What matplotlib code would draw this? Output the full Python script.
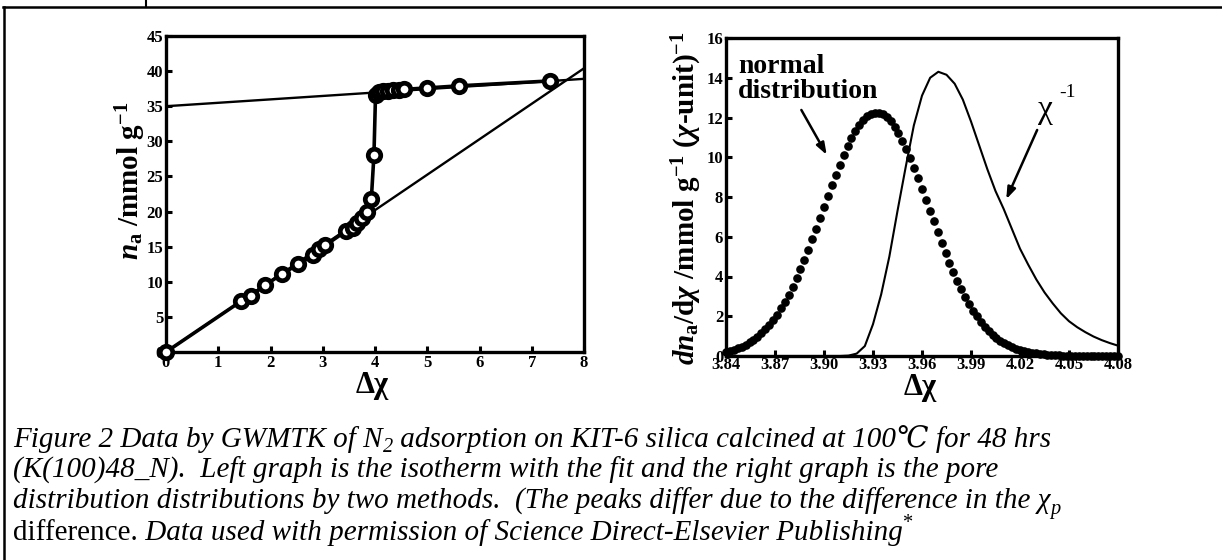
import matplotlib
matplotlib.use('Agg')
import matplotlib.pyplot as plt
from matplotlib.lines import Line2D

plt.rcParams['font.family'] = ['Liberation Serif', 'DejaVu Serif']
plt.rcParams['mathtext.fontset'] = 'custom'
plt.rcParams['mathtext.rm'] = 'Liberation Serif:bold'
plt.rcParams['mathtext.it'] = 'Liberation Serif:italic:bold'
plt.rcParams['mathtext.bf'] = 'Liberation Serif:bold'

# left graph: isotherm points (delta chi, n_a) and the two fit lines
iso_x = [0.0, 1.43, 1.62, 1.89, 2.22, 2.53, 2.82, 2.93, 3.05, 3.44, 3.57, 3.66, 3.76, 3.85,
         3.93, 3.98, 4.01, 4.07, 4.15, 4.25, 4.35, 4.45, 4.55, 4.99, 5.6, 7.35]
iso_y = [0.0, 7.2, 8.0, 9.5, 11.1, 12.5, 13.8, 14.6, 15.2, 17.2, 17.7, 18.4, 19.1, 19.9,
         21.8, 28.1, 36.6, 37.0, 37.1, 37.2, 37.3, 37.35, 37.4, 37.6, 37.9, 38.6]
fit_low_x = [0.0, 8.0]
fit_low_y = [0.0, 40.4]
fit_high_x = [0.0, 8.0]
fit_high_y = [35.0, 38.9]

# right graph: normal distribution (dots) and chi^-1 distribution (line)
norm_x = [3.84 + 0.0024 * i for i in range(101)]
norm_y = [0.21, 0.26, 0.32, 0.39, 0.47, 0.57, 0.68, 0.82, 0.97, 1.14,
          1.34, 1.56, 1.81, 2.08, 2.39, 2.73, 3.09, 3.49, 3.91, 4.37,
          4.84, 5.35, 5.87, 6.40, 6.95, 7.50, 8.05, 8.59, 9.12, 9.63,
          10.11, 10.56, 10.97, 11.33, 11.63, 11.88, 12.07, 12.19, 12.25, 12.23,
          12.16, 12.01, 11.80, 11.54, 11.21, 10.84, 10.42, 9.96, 9.47, 8.95,
          8.41, 7.87, 7.32, 6.77, 6.22, 5.69, 5.18, 4.68, 4.21, 3.77,
          3.35, 2.97, 2.61, 2.28, 1.99, 1.72, 1.48, 1.27, 1.08, 0.91,
          0.77, 0.64, 0.54, 0.44, 0.37, 0.30, 0.24, 0.20, 0.16, 0.13,
          0.10, 0.08, 0.06, 0.05, 0.04, 0.03, 0.02, 0.02, 0.01, 0.01,
          0.01, 0.01, 0.0, 0.0, 0.0, 0.0, 0.0, 0.0, 0.0, 0.0, 0.0]
inv_x = [3.84, 3.905, 3.910, 3.915, 3.920, 3.925, 3.930, 3.935, 3.940, 3.945, 3.950,
         3.955, 3.960, 3.965, 3.970, 3.975, 3.980, 3.985, 3.990, 3.995, 4.000,
         4.005, 4.010, 4.015, 4.020, 4.025, 4.030, 4.035, 4.040, 4.045, 4.050,
         4.055, 4.060, 4.065, 4.070, 4.075, 4.080]
inv_y = [0.0, 0.0, 0.0, 0.02, 0.12, 0.5, 1.6, 3.1, 5.0, 7.3, 9.5,
         11.6, 13.1, 14.0, 14.3, 14.15, 13.7, 12.9, 11.8, 10.6, 9.4,
         8.3, 7.4, 6.4, 5.4, 4.6, 3.85, 3.2, 2.65, 2.15, 1.75,
         1.45, 1.2, 0.98, 0.8, 0.65, 0.52]

left_xticks = [0, 1, 2, 3, 4, 5, 6, 7, 8]
left_yticks = [0, 5, 10, 15, 20, 25, 30, 35, 40, 45]
right_xticks = [3.84, 3.87, 3.90, 3.93, 3.96, 3.99, 4.02, 4.05, 4.08]
right_yticks = [0, 2, 4, 6, 8, 10, 12, 14, 16]

W, H = 1222, 560
fig = plt.figure(figsize=(W / 100, H / 100), dpi=100)


def box(x0, y0, x1, y1):
    # pixel box (from top-left) -> figure fraction rect
    return [x0 / W, 1 - y1 / H, (x1 - x0) / W, (y1 - y0) / H]


def style_axes(ax):
    for s in ax.spines.values():
        s.set_linewidth(2.4)
    ax.tick_params(direction='in', length=4, width=2.2, labelsize=12, pad=2)
    for lab in ax.get_xticklabels() + ax.get_yticklabels():
        lab.set_fontweight('bold')


ax1 = fig.add_axes(box(166, 36, 584, 352))
ax1.plot(fit_low_x, fit_low_y, color='black', lw=1.7)
ax1.plot(fit_high_x, fit_high_y, color='black', lw=1.7)
ax1.plot(iso_x, iso_y, '-o', color='black', lw=2.6, ms=9, mew=3.4, mfc='white', mec='black',
         clip_on=False, zorder=3)
ax1.set_xlim(0, 8)
ax1.set_ylim(0, 45)
ax1.set_xticks(left_xticks)
ax1.set_yticks(left_yticks)
style_axes(ax1)

ax2 = fig.add_axes(box(726, 38, 1118, 356))
ax2.plot(inv_x, inv_y, color='black', lw=1.5)
ax2.plot(norm_x, norm_y, 'o', color='black', ms=5.2, clip_on=False)
ax2.set_xlim(3.84, 4.08)
ax2.set_ylim(0, 16)
ax2.set_xticks(right_xticks)
ax2.set_xticklabels(['%.2f' % t for t in right_xticks])
ax2.set_yticks(right_yticks)
style_axes(ax2)
ax2.tick_params(axis='x', pad=1)

ax2.text(3.8473, 12.98, 'normal\ndistribution', fontsize=20, fontweight='bold', va='baseline', ha='left',
         linespacing=1.0)
ax2.annotate('', xy=(3.9025, 10.0), xytext=(3.8853, 12.5),
             arrowprops=dict(arrowstyle='-|>,head_length=0.7,head_width=0.25', color='black', lw=1.8))
ax2.text(4.0312, 11.95, 'χ', fontsize=24, ha='left', va='baseline')
ax2.text(4.0440, 13.05, '-1', fontsize=14, ha='left', va='baseline')
ax2.annotate('', xy=(4.0109, 7.76), xytext=(4.0312, 11.5),
             arrowprops=dict(arrowstyle='-|>,head_length=0.7,head_width=0.25', color='black', lw=1.8))

# axis titles
fig.text(131 / W, 1 - 181 / H, r'$n_\mathrm{a}$ /mmol g$^{-1}$', rotation=90, fontsize=21,
         fontweight='bold', ha='center', va='center')
fig.text(372 / W, 1 - 385 / H, 'Δχ', fontsize=22, fontweight='bold', ha='center', va='center')
fig.text(687 / W, 1 - 198 / H, r'$dn_\mathrm{a}$/d$\chi$ /mmol g$^{-1}$ ($\chi$-unit)$^{-1}$',
         rotation=90, fontsize=21, fontweight='bold', ha='center', va='center')
fig.text(920 / W, 1 - 388 / H, 'Δχ', fontsize=22, fontweight='bold', ha='center', va='center')

# page frame
fig.add_artist(Line2D([3 / W, 1.0], [1 - 7 / H, 1 - 7 / H], transform=fig.transFigure, color='black', lw=1.8))
fig.add_artist(Line2D([4 / W, 4 / W], [0, 1 - 7 / H], transform=fig.transFigure, color='black', lw=1.8))
fig.add_artist(Line2D([146 / W, 146 / W], [1 - 7 / H, 1.0], transform=fig.transFigure, color='black', lw=1.5))

# caption, drawn as runs of text along each baseline
renderer = fig.canvas.get_renderer()
cap_size = 21


def runs(x, y, parts):
    x = x / W
    for s, st, size, dy in parts:
        t = fig.text(x, 1 - (y + dy) / H, s, fontsize=size, style=st, fontweight='normal',
                     ha='left', va='baseline')
        x += t.get_window_extent(renderer).width / W


runs(13, 447, [('Figure 2 Data by GWMTK of N', 'italic', cap_size, 0),
               ('2', 'italic', cap_size * 0.7, 5),
               (' adsorption on KIT-6 silica calcined at 100℃ for 48 hrs', 'italic', cap_size, 0)])
runs(13, 478, [('(K(100)48_N).  Left graph is the isotherm with the fit and the right graph is the pore',
                'italic', cap_size, 0)])
runs(13, 509, [('distribution distributions by two methods.  (The peaks differ due to the difference in the χ',
                'italic', cap_size, 0),
               ('p', 'italic', cap_size * 0.7, 5)])
runs(13, 540, [('difference.', 'normal', cap_size, 0),
               (' Data used with permission of Science Direct-Elsevier Publishing', 'italic', cap_size, 0),
               ('*', 'normal', cap_size * 0.7, -12)])

fig.savefig('out.png', dpi=100)
